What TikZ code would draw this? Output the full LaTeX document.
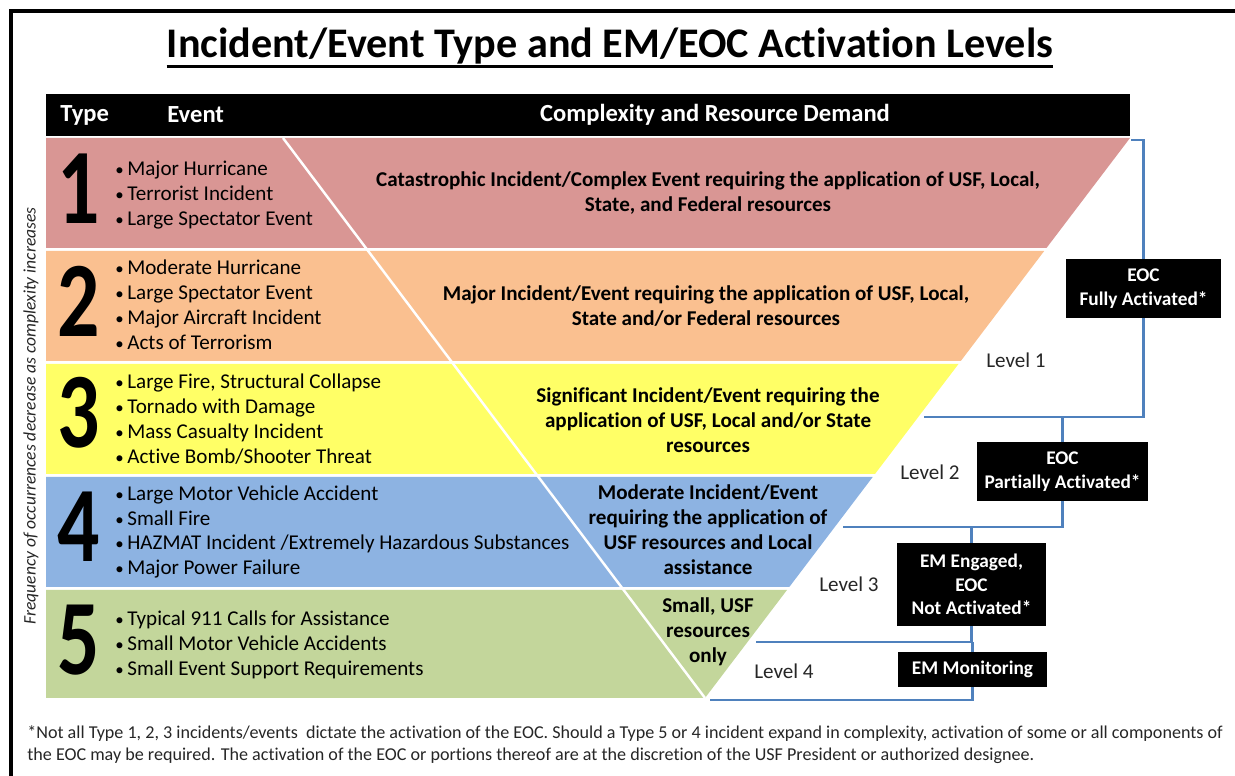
\documentclass[tikz,border=0pt]{standalone}
\usepackage{fontspec}
\setmainfont{Carlito}[Ligatures=NoCommon]

\definecolor{sevcat}{RGB}{217,150,148}
\definecolor{sevmajor}{RGB}{250,192,144}
\definecolor{sevsig}{RGB}{255,255,102}
\definecolor{sevmod}{RGB}{141,179,226}
\definecolor{sevsmall}{RGB}{195,214,155}
\definecolor{linkblue}{RGB}{79,129,189}

\newcommand{\evitem}[1]{\makebox[0.28cm][l]{\hspace{0.04cm}\scalebox{0.8}{\textbullet}}#1}
\newcommand{\bignum}[1]{\scalebox{0.78}[1]{#1}}

\begin{document}
\begin{tikzpicture}[x=0.02cm, y=-0.02cm,
  head/.style={font=\fontsize{14}{16}\selectfont\bfseries, text=white, inner sep=0},
  num/.style={font=\fontsize{61}{61}\selectfont\bfseries, inner sep=0},
  events/.style={font=\fontsize{12}{14.2}\selectfont, align=left, anchor=west, inner sep=0},
  demand/.style={font=\fontsize{12}{14.2}\selectfont\bfseries, align=center, inner sep=0},
  level/.style={font=\fontsize{12}{14}\selectfont, text=black!85, inner sep=0},
  eoc/.style={fill=black, text=white, font=\fontsize{11}{13.5}\selectfont\bfseries, align=center, inner sep=0},
  link/.style={draw=linkblue, line width=1.6pt}]

  \useasboundingbox (0,0) rectangle (1235,776);
  \draw[line width=2.3pt] (11,776) -- (11,11) -- (1235,11);

  % title
  \node[anchor=base, inner sep=0, font=\fontsize{24}{28}\selectfont\bfseries] (title) at (610,58)
    {Incident/Event Type and EM/EOC Activation Levels};
  \draw[line width=1.6pt] ([yshift=-5pt]title.base west) -- ([yshift=-5pt]title.base east);

  % header bar
  \fill[black] (46,94) rectangle (1130,136);
  \node[head, anchor=west] (htype) at (60,115) {Type};
  \node[head, anchor=west] (hevent) at (167,115) {Event};
  \node[head] (hdemand) at (715,115) {Complexity and Resource Demand};

  % bands, cut by the funnel
  \fill[sevcat] (46,138) -- (1130,138) -- (1046.5,248) -- (46,248) -- cycle;
  \fill[sevmajor] (46,251) -- (1044.2,251) -- (960.8,361) -- (46,361) -- cycle;
  \fill[sevsig] (46,364) -- (958.5,364) -- (875,474) -- (46,474) -- cycle;
  \fill[sevmod] (46,477) -- (872.7,477) -- (789.3,587) -- (46,587) -- cycle;
  \fill[sevsmall] (46,590) -- (787,590) -- (705,698) -- (46,698) -- cycle;
  \draw[white, line width=1.4pt] (283,138) -- (705,698);

  \node[rotate=90, inner sep=0, text=black!85, font=\fontsize{10}{11}\selectfont\itshape] (freq) at (31,416)
    {Frequency of occurrences decrease as complexity increases};

  % type 1
  \node[num] (n1) at (79,189) {\bignum{1}};
  \node[events] (ev1) at (113,195) {\evitem{Major Hurricane}\\\evitem{Terrorist Incident}\\\evitem{Large Spectator Event}};
  \node[demand] (cx1) at (708,193) {Catastrophic Incident/Complex Event requiring the application of USF, Local,\\State, and Federal resources};

  % type 2
  \node[num] (n2) at (79,301) {\bignum{2}};
  \node[events] (ev2) at (113,305) {\evitem{Moderate Hurricane}\\\evitem{Large Spectator Event}\\\evitem{Major Aircraft Incident}\\\evitem{Acts of Terrorism}};
  \node[demand] (cx2) at (706,306) {Major Incident/Event requiring the application of USF, Local,\\State and/or Federal resources};

  % type 3
  \node[num] (n3) at (79,413) {\bignum{3}};
  \node[events] (ev3) at (113,419) {\evitem{Large Fire, Structural Collapse}\\\evitem{Tornado with Damage}\\\evitem{Mass Casualty Incident}\\\evitem{Active Bomb/Shooter Threat}};
  \node[demand] (cx3) at (708,420) {Significant Incident/Event requiring the\\application of USF, Local and/or State\\resources};

  % type 4
  \node[num] (n4) at (79,527) {\bignum{4}};
  \node[events] (ev4) at (113,532) {\evitem{Large Motor Vehicle Accident}\\\evitem{Small Fire}\\\evitem{HAZMAT Incident /Extremely Hazardous Substances}\\\evitem{Major Power Failure}};
  \node[demand] (cx4) at (708,530) {Moderate Incident/Event\\requiring the application of\\USF resources and Local\\assistance};

  % type 5
  \node[num] (n5) at (79,640) {\bignum{5}};
  \node[events] (ev5) at (113,645) {\evitem{Typical 911 Calls for Assistance}\\\evitem{Small Motor Vehicle Accidents}\\\evitem{Small Event Support Requirements}};
  \node[demand] (cx5) at (708,632) {Small, USF\\resources\\only};

  % activation levels
  \node[level] (lv1) at (1016,360) {Level 1};
  \node[level] (lv2) at (930,472) {Level 2};
  \node[level] (lv3) at (849,584) {Level 3};
  \node[level] (lv4) at (784,671) {Level 4};

  \node[eoc, minimum width=3.1cm, minimum height=1.18cm] (full) at (1143.5,288.5) {EOC\\Fully Activated*};
  \node[eoc, minimum width=3.42cm, minimum height=1.18cm] (part) at (1062.5,471.5) {EOC\\Partially Activated*};
  \node[eoc, minimum width=2.98cm, minimum height=1.66cm] (engaged) at (971.5,584.5) {EM Engaged,\\EOC\\Not Activated*};
  \node[eoc, minimum width=2.98cm, minimum height=0.7cm] (monitor) at (972.5,669.5) {EM Monitoring};

  \coordinate (top) at (1131,140);
  \coordinate (h1) at (924,417);
  \coordinate (h2) at (843,527);
  \coordinate (h3) at (756,642);
  \coordinate (h4) at (710,700);

  \draw[link] (top) -| (full);
  \draw[link] (full) |- (h1);
  \draw[link] (part) -- (part |- h1);
  \draw[link] (part) |- (h2);
  \draw[link] (engaged) -- (engaged |- h2);
  \draw[link] (engaged) |- (h3);
  \draw[link] (monitor) -- (monitor |- h3);
  \draw[link] (monitor) |- (h4);

  % footnote
  \node[anchor=west, align=left, inner sep=0, text=black!85, font=\fontsize{10.3}{12.6}\selectfont] (note) at (27,745)
    {*Not all Type 1, 2, 3 incidents/events\ \ dictate the activation of the EOC. Should a Type 5 or 4 incident expand in complexity, activation of some or all components of\\
     the EOC may be required. The activation of the EOC or portions thereof are at the discretion of the USF President or authorized designee.};
\end{tikzpicture}
\end{document}
